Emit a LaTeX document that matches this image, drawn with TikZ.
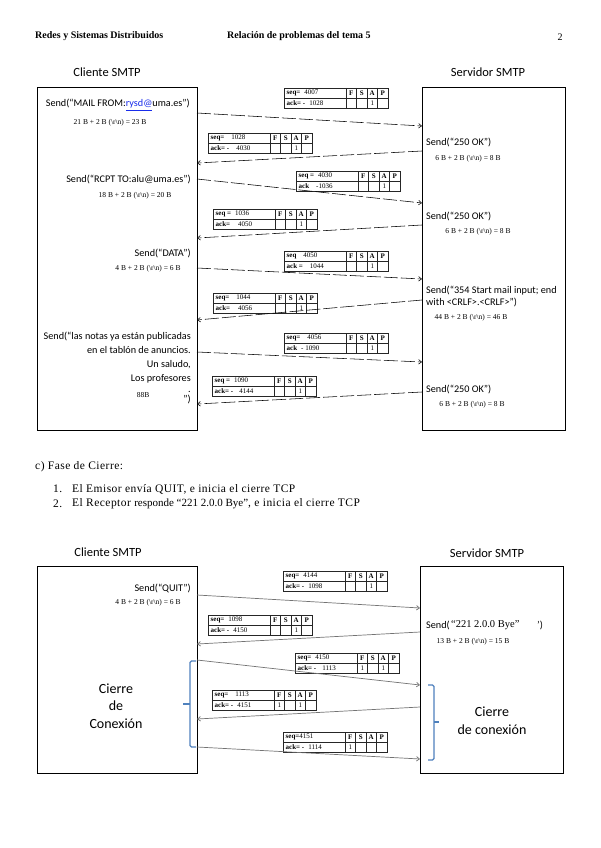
\documentclass[tikz,border=0pt]{standalone}
\usepackage{fontspec}
\setmainfont{Liberation Serif}
\newfontfamily\calibri{Carlito}
\newfontfamily\bodyserif[LetterSpace=4]{Liberation Serif}
\usepackage{tikz}
\usetikzlibrary{arrows.meta, positioning, calc}
\usepackage{xcolor}
\definecolor{braceblue}{RGB}{79,129,189}
\definecolor{linkblue}{RGB}{25,45,235}

% etiqueta de campo: nombre en negrita y valor
\newcommand{\fld}[2]{\textbf{#1}\hspace{4pt}#2}

% tabla de cabecera TCP: nombre, x, y, seq, ack, F, S, A, P
\newcommand{\segtab}[9]{%
  \begin{scope}[shift={(#2,#3)}]
    \node[segbox] (#1) at (0,0) {};
    \foreach \cx in {62,72.5,83,93.5} \draw[segline] (\cx,0) -- (\cx,20);
    \draw[segline] (0,10) -- (104,10);
    \node[segtxt, anchor=west] (#1-seq) at (2.5,5) {#4};
    \node[segtxt, anchor=west] (#1-ack) at (2.5,15) {#5};
    \foreach \fl/\cx in {F/67.25,S/77.75,A/88.25,P/98.75}
      \node[segtxt] (#1-\fl) at (\cx,5) {\textbf{\fl}};
    \node[segtxt] (#1-f) at (67.25,15) {#6};
    \node[segtxt] (#1-s) at (77.75,15) {#7};
    \node[segtxt] (#1-a) at (88.25,15) {#8};
    \node[segtxt] (#1-p) at (98.75,15) {#9};
  \end{scope}}

\tikzset{
  hostbox/.style={draw, line width=1.2pt, anchor=north west, inner sep=0pt},
  hosttitle/.style={font=\calibri\fontsize{12.5}{15}\selectfont, inner sep=0pt},
  sendtxt/.style={font=\calibri\fontsize{10.2}{14}\selectfont, inner sep=0pt},
  bytetxt/.style={font=\fontsize{7.5}{8}\selectfont, inner sep=0pt},
  segbox/.style={draw=black!85, line width=0.45pt, anchor=north west,
    minimum width=104pt, minimum height=20pt, inner sep=0pt},
  segline/.style={draw=black!85, line width=0.45pt},
  segtxt/.style={font=\fontsize{7}{8}\selectfont, inner sep=0pt},
  msgdash/.style={line width=0.55pt, dash pattern=on 14pt off 3pt,
    -{Straight Barb[length=3pt,width=4.5pt]}},
  msgline/.style={draw=black!55, line width=0.7pt,
    -{Straight Barb[length=3pt,width=4.5pt]}},
  brace/.style={draw=braceblue, line width=1.3pt, rounded corners=1.5pt},
  closetxt/.style={font=\calibri\fontsize{14}{17.5}\selectfont, align=center, inner sep=0pt},
  bodytxt/.style={font=\bodyserif\fontsize{11.5}{13}\selectfont, inner sep=0pt, anchor=west},
  headtxt/.style={font=\bfseries\fontsize{10}{12}\selectfont, inner sep=0pt, anchor=west},
}

\begin{document}
\begin{tikzpicture}[x=1pt, y=-1pt]
  \path[use as bounding box, fill=white] (0,0) rectangle (600,848);

  % cabecera de pagina
  \node[headtxt] (hd1) at (35,36) {Redes y Sistemas Distribuidos};
  \node[headtxt] (hd2) at (227,36) {Relación de problemas del tema 5};
  \node[font=\fontsize{10}{12}\selectfont, inner sep=0pt] (hdn) at (560,37) {2};

  % ---- fase de datos ----
  \node[hosttitle] (cli1) at (107,72) {Cliente SMTP};
  \node[hosttitle] (srv1) at (488,72) {Servidor SMTP};
  \node[hostbox, minimum width=160pt, minimum height=343pt] (cbox1) at (37,87) {};
  \node[hostbox, minimum width=143pt, minimum height=343pt] (sbox1) at (422,87) {};

  \node[sendtxt, anchor=east] (c1) at (190,105)
    {Send(“MAIL FROM:\textcolor{linkblue}{\underline{rysd@}}uma.es”)};
  \node[bytetxt] (c1b) at (110,123) {21 B + 2 B (\textbackslash r\textbackslash n) = 23 B};
  \node[sendtxt, anchor=east] (c2) at (191,179) {Send(“RCPT TO:alu@uma.es”)};
  \node[bytetxt] (c2b) at (135,196) {18 B + 2 B (\textbackslash r\textbackslash n) = 20 B};
  \node[sendtxt, anchor=east] (c3) at (191,253) {Send(“DATA”)};
  \node[bytetxt] (c3b) at (148,269) {4 B + 2 B (\textbackslash r\textbackslash n) = 6 B};
  \node[sendtxt, anchor=east, align=right] (c4) at (191,358)
    {Send(“las notas ya están publicadas\\en el tablón de anuncios.\\Un saludo,\\Los profesores};
  \node[sendtxt, anchor=east, align=right, font=\calibri\fontsize{10.2}{10}\selectfont] (c4e) at (191,398) {.\\”)};
  \node[bytetxt] (c4b) at (143,395) {88B};

  \node[sendtxt, anchor=west] (s1) at (426,142) {Send(“250 OK”)};
  \node[bytetxt] (s1b) at (468,159) {6 B + 2 B (\textbackslash r\textbackslash n) = 8 B};
  \node[sendtxt, anchor=west] (s2) at (426,216) {Send(“250 OK”)};
  \node[bytetxt] (s2b) at (478,232) {6 B + 2 B (\textbackslash r\textbackslash n) = 8 B};
  \node[sendtxt, anchor=west, align=left, font=\calibri\fontsize{10.2}{12}\selectfont] (s3) at (426,296)
    {Send(“354 Start mail input; end\\with <CRLF>.<CRLF>”)};
  \node[bytetxt] (s3b) at (471,318) {44 B + 2 B (\textbackslash r\textbackslash n) = 46 B};
  \node[sendtxt, anchor=west] (s4) at (426,389) {Send(“250 OK”)};
  \node[bytetxt] (s4b) at (472,405) {6 B + 2 B (\textbackslash r\textbackslash n) = 8 B};

  \segtab{t1}{284}{88}{\fld{seq=}{4007}}{\fld{ack= -}{1028}}{}{}{1}{}
  \segtab{t2}{208}{133}{\fld{seq=}{\hspace{3pt}1028}}{\fld{ack= -}{\hspace{3pt}4030}}{}{}{1}{}
  \segtab{t3}{296}{171}{\fld{seq =}{4030}}{\fld{ack}{\hspace{3pt}-1036}}{}{}{1}{}
  \segtab{t4}{213}{209}{\fld{seq =}{1036}}{\fld{ack=}{\hspace{4pt}4050}}{}{}{1}{}
  \segtab{t5}{284}{251}{\fld{seq}{\hspace{3pt}4050}}{\fld{ack =}{\hspace{3pt}1044}}{}{}{1}{}
  \segtab{t6}{213}{293}{\fld{seq=}{\hspace{3pt}1044}}{\fld{ack=}{\hspace{4pt}4056}}{}{}{1}{}
  \segtab{t7}{284}{333}{\fld{seq=}{\hspace{3pt}4056}}{\fld{ack}{- 1090}}{}{}{1}{}
  \segtab{t8}{212}{376}{\fld{seq =}{1090}}{\fld{ack= -}{\hspace{2pt}4144}}{}{}{1}{}

  \foreach \n/\ya/\yb in {1/113/126, 3/179/203, 5/268/279, 7/352/362} {
    \coordinate (d\n a) at (197,\ya);
    \coordinate (d\n b) at (422,\yb);
    \draw[msgdash] (d\n a) -- (d\n b);
  }
  \foreach \n/\ya/\yb in {2/151/163, 4/225/238, 6/300/320, 8/392/404} {
    \coordinate (d\n a) at (422,\ya);
    \coordinate (d\n b) at (197,\yb);
    \draw[msgdash] (d\n a) -- (d\n b);
  }

  % ---- texto intermedio ----
  \node[bodytxt] (fase) at (35,467) {c) Fase de Cierre:};
  \node[bodytxt] (it1n) at (53,489) {1.};
  \node[bodytxt] (it1) at (72,489) {El Emisor envía QUIT, e inicia el cierre TCP};
  \node[bodytxt] (it2n) at (53,504) {2.};
  \node[bodytxt] (it2) at (72,504)
    {El Receptor {\fontspec{Liberation Serif}\fontsize{11}{13}\selectfont responde “221 2.0.0 Bye”}, e inicia el cierre TCP};

  % ---- fase de cierre ----
  \node[hosttitle] (cli2) at (108,552) {Cliente SMTP};
  \node[hosttitle] (srv2) at (487,553) {Servidor SMTP};
  \node[hostbox, minimum width=160pt, minimum height=207pt] (cbox2) at (37,566) {};
  \node[hostbox, minimum width=143pt, minimum height=207pt] (sbox2) at (420,566) {};

  \node[sendtxt, anchor=east] (q1) at (191,588) {Send(“QUIT”)};
  \node[bytetxt] (q1b) at (148,603) {4 B + 2 B (\textbackslash r\textbackslash n) = 6 B};
  \node[closetxt] (cc) at (116,706) {Cierre\\de\\Conexión};

  \node[sendtxt, anchor=west] (q2) at (426,625) {Send(};
  \node[font=\fontsize{10.5}{12}\selectfont, inner sep=0pt, anchor=west] (q2m) at (451,625) {“221 2.0.0 Bye”};
  \node[sendtxt, anchor=west] (q2e) at (537,625) {’)};
  \node[bytetxt] (q2b) at (473,642) {13 B + 2 B (\textbackslash r\textbackslash n) = 15 B};
  \node[closetxt, font=\calibri\fontsize{14}{18}\selectfont] (sc) at (492,721) {Cierre\\de conexión};

  \segtab{b1}{283}{571}{\fld{seq=}{4144}}{\fld{ack= -}{1098}}{}{}{1}{}
  \segtab{b2}{208}{615}{\fld{seq=}{1098}}{\fld{ack= -}{4150}}{}{}{1}{}
  \segtab{b3}{295}{653}{\fld{seq=}{4150}}{\fld{ack= -}{\hspace{2pt}1113}}{1}{}{1}{}
  \segtab{b4}{212}{690}{\fld{seq=}{\hspace{3pt}1113}}{\fld{ack= -}{4151}}{1}{}{1}{}
  \segtab{b5}{283}{732}{\textbf{seq=}4151}{\fld{ack= -}{1114}}{1}{}{}{}

  \foreach \n/\ya/\yb in {1/595/608, 3/660/685, 5/747/759} {
    \coordinate (e\n a) at (197,\ya);
    \coordinate (e\n b) at (420,\yb);
    \draw[msgline] (e\n a) -- (e\n b);
  }
  \foreach \n/\ya/\yb in {2/632/644, 4/707/719} {
    \coordinate (e\n a) at (420,\ya);
    \coordinate (e\n b) at (197,\yb);
    \draw[msgline] (e\n a) -- (e\n b);
  }

  % llaves azules
  \draw[brace] (196,661) -- (190,661) -- (190,747) -- (196,747);
  \draw[brace] (190,704) -- (183,704);
  \draw[brace] (428,685) -- (434,685) -- (434,760) -- (428,760);
  \draw[brace] (434,722) -- (439,722);
\end{tikzpicture}
\end{document}
